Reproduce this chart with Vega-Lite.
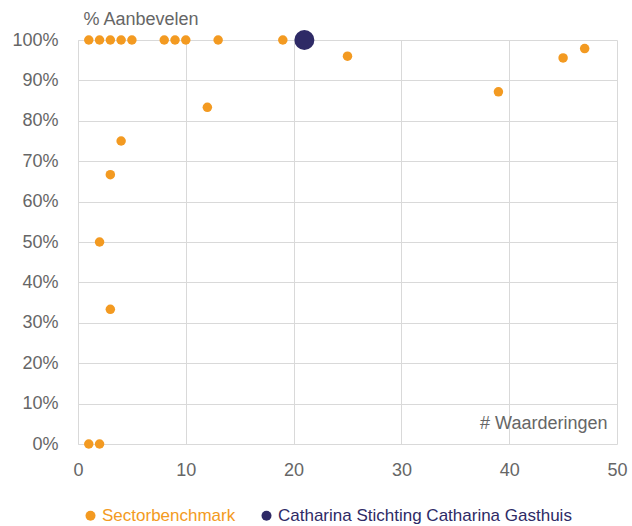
{
  "$schema": "https://vega.github.io/schema/vega-lite/v6.json",
  "width": 539,
  "height": 404,
  "autosize": {"type": "none"},
  "padding": {"left": 78, "top": 40, "right": 15, "bottom": 82},
  "background": "white",
  "config": {
    "font": "Liberation Sans",
    "view": {"stroke": null}
  },
  "data": {
    "values": [
      {"n": 1, "pct": 1.0, "series": "Sectorbenchmark"},
      {"n": 2, "pct": 1.0, "series": "Sectorbenchmark"},
      {"n": 3, "pct": 1.0, "series": "Sectorbenchmark"},
      {"n": 4, "pct": 1.0, "series": "Sectorbenchmark"},
      {"n": 5, "pct": 1.0, "series": "Sectorbenchmark"},
      {"n": 8, "pct": 1.0, "series": "Sectorbenchmark"},
      {"n": 9, "pct": 1.0, "series": "Sectorbenchmark"},
      {"n": 10, "pct": 1.0, "series": "Sectorbenchmark"},
      {"n": 13, "pct": 1.0, "series": "Sectorbenchmark"},
      {"n": 19, "pct": 1.0, "series": "Sectorbenchmark"},
      {"n": 25, "pct": 0.96, "series": "Sectorbenchmark"},
      {"n": 12, "pct": 0.8333, "series": "Sectorbenchmark"},
      {"n": 4, "pct": 0.75, "series": "Sectorbenchmark"},
      {"n": 3, "pct": 0.6667, "series": "Sectorbenchmark"},
      {"n": 2, "pct": 0.5, "series": "Sectorbenchmark"},
      {"n": 3, "pct": 0.3333, "series": "Sectorbenchmark"},
      {"n": 1, "pct": 0.0, "series": "Sectorbenchmark"},
      {"n": 2, "pct": 0.0, "series": "Sectorbenchmark"},
      {"n": 39, "pct": 0.8718, "series": "Sectorbenchmark"},
      {"n": 45, "pct": 0.9556, "series": "Sectorbenchmark"},
      {"n": 47, "pct": 0.9787, "series": "Sectorbenchmark"},
      {"n": 21, "pct": 1.0, "series": "Catharina Stichting Catharina Gasthuis"}
    ]
  },
  "encoding": {
    "x": {
      "field": "n",
      "type": "quantitative",
      "scale": {"domain": [0, 50], "nice": false, "zero": true},
      "axis": {
        "values": [0, 10, 20, 30, 40, 50],
        "grid": true,
        "gridColor": "#d9d9d9",
        "domain": false,
        "ticks": false,
        "labelFlush": false,
        "labelPadding": 17,
        "labelFontSize": 18,
        "labelColor": "#666666",
        "title": "# Waarderingen",
        "titleFontSize": 18,
        "titleFontWeight": "normal",
        "titleColor": "#666666",
        "titleAnchor": "start",
        "titleAlign": "right",
        "titleBaseline": "alphabetic",
        "titleX": 529,
        "titleY": -16
      }
    },
    "y": {
      "field": "pct",
      "type": "quantitative",
      "scale": {"domain": [0, 1], "nice": false},
      "axis": {
        "values": [0, 0.1, 0.2, 0.3, 0.4, 0.5, 0.6, 0.7, 0.8, 0.9, 1.0],
        "format": ".0%",
        "grid": true,
        "gridColor": "#d9d9d9",
        "domain": true,
        "domainColor": "#d9d9d9",
        "ticks": false,
        "labelFlush": false,
        "labelPadding": 20,
        "labelFontSize": 18,
        "labelColor": "#666666",
        "title": "% Aanbevelen",
        "titleFontSize": 18,
        "titleFontWeight": "normal",
        "titleColor": "#666666",
        "titleAngle": 0,
        "titleAlign": "left",
        "titleBaseline": "alphabetic",
        "titleAnchor": "start",
        "titleX": 5,
        "titleY": -16
      }
    },
    "color": {
      "field": "series",
      "type": "nominal",
      "scale": {
        "domain": ["Sectorbenchmark", "Catharina Stichting Catharina Gasthuis"],
        "range": ["#f39a21", "#2e2a66"]
      },
      "legend": {
        "title": null,
        "orient": "none",
        "direction": "horizontal",
        "legendX": 4,
        "legendY": 467,
        "symbolType": "circle",
        "symbolSize": 100,
        "symbolOpacity": 1,
        "labelFontSize": 17,
        "labelLimit": 500,
        "columnPadding": 22,
        "symbolOffset": 0,
        "labelOffset": 3,
        "encode": {
          "labels": {
            "update": {
              "fill": {"signal": "datum.value === 'Sectorbenchmark' ? '#f39a21' : '#2e2a66'"}
            }
          }
        }
      }
    }
  },
  "layer": [
    {
      "transform": [{"filter": "datum.series === 'Sectorbenchmark'"}],
      "mark": {"type": "point", "filled": true, "opacity": 1, "shape": "circle", "size": 90}
    },
    {
      "transform": [{"filter": "datum.series !== 'Sectorbenchmark'"}],
      "mark": {"type": "point", "filled": true, "opacity": 1, "shape": "circle", "size": 400}
    }
  ]
}
